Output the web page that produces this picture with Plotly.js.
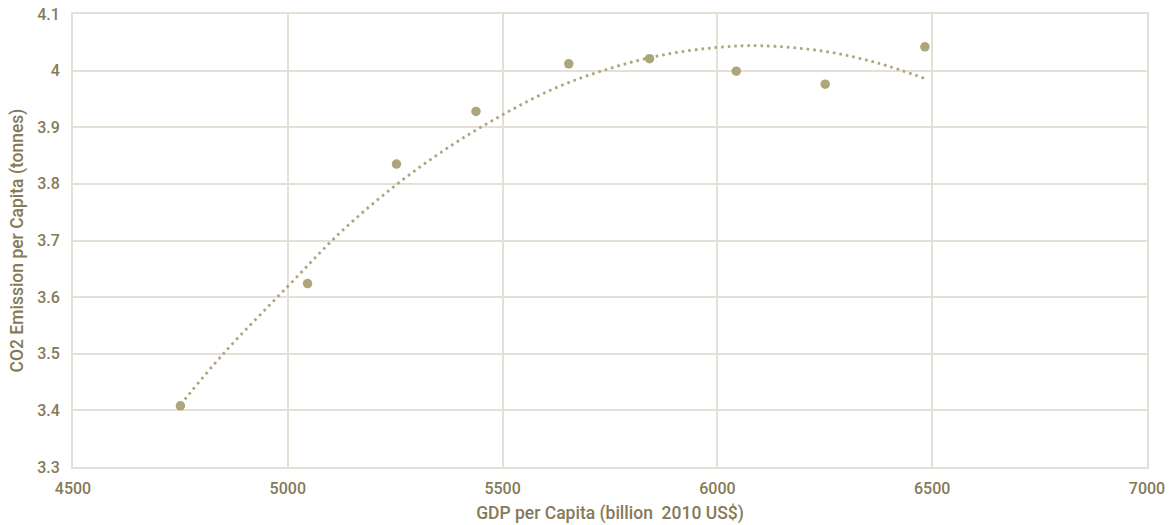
<!DOCTYPE html>
<html>
<head>
<meta charset="utf-8">
<script src="https://cdn.plot.ly/plotly-3.0.1.min.js"></script>
<style>html,body{margin:0;padding:0;background:#fff}#chart{width:1174px;height:525px}</style>
</head>
<body>
<div id="chart"></div>
<script>
// Observed data
const gdpPerCapita = [4750, 5046, 5253, 5438, 5654, 5842, 6044, 6251, 6483];
const co2PerCapita = [3.408, 3.624, 3.835, 3.928, 4.012, 4.021, 3.999, 3.976, 4.042];
// Polynomial trendline
const trendX = [4750, 4850, 5000, 5125, 5250, 5375, 5500, 5625, 5750, 5875, 6000, 6100, 6250, 6375, 6483];
const trendY = [3.41, 3.50, 3.619, 3.716, 3.797, 3.865, 3.922, 3.970, 4.004, 4.028, 4.041, 4.044, 4.034, 4.013, 3.986];

const xTicks = [4500, 5000, 5500, 6000, 6500, 7000];
const yTicks = [3.3, 3.4, 3.5, 3.6, 3.7, 3.8, 3.9, 4, 4.1];
const yTickText = ['3.3','3.4','3.5','3.6','3.7','3.8','3.9','4','4.1'];

const textColor = '#857A58';
const gridColor = '#E4E0D6';
const markColor = '#ADA67B';
const fontFam = 'Roboto, "Liberation Sans", sans-serif';

const traces = [
  {
    x: trendX, y: trendY, type: 'scatter', mode: 'lines',
    line: {color: markColor, width: 2.8, dash: '2.6px,4px', shape: 'spline', smoothing: 1},
    hoverinfo: 'skip', showlegend: false
  },
  {
    x: gdpPerCapita, y: co2PerCapita, type: 'scatter', mode: 'markers',
    marker: {color: markColor, size: 9.5},
    showlegend: false
  }
];

const layout = {
  width: 1174, height: 525,
  margin: {l: 73, r: 27, t: 14, b: 58},
  paper_bgcolor: '#fff', plot_bgcolor: '#fff',
  font: {family: fontFam, color: textColor, size: 16, weight: 500},
  xaxis: {
    range: [4500, 7000], tickvals: xTicks, ticktext: xTicks.map(String),
    showgrid: true, gridcolor: gridColor, gridwidth: 2,
    zeroline: false, showline: true, linecolor: gridColor, linewidth: 2, mirror: true,
    ticks: '', ticklen: 0, ticklabelstandoff: 6,
    tickfont: {family: fontFam, color: textColor, size: 16, weight: 500},
    title: {text: 'GDP per Capita (billion  2010 US$)', font: {family: fontFam, color: textColor, size: 17.5, weight: 500}, standoff: 10}
  },
  yaxis: {
    range: [3.3, 4.1], tickvals: yTicks, ticktext: yTickText,
    showgrid: true, gridcolor: gridColor, gridwidth: 2,
    zeroline: false, showline: true, linecolor: gridColor, linewidth: 2, mirror: true,
    ticks: '', ticklen: 0, ticklabelstandoff: 8,
    tickfont: {family: fontFam, color: textColor, size: 16, weight: 500},
    title: {text: 'CO2 Emission per Capita (tonnes)', font: {family: fontFam, color: textColor, size: 17.5, weight: 500}, standoff: 9}
  }
};

Plotly.newPlot('chart', traces, layout, {displayModeBar: false, staticPlot: true});
</script>
</body>
</html>
